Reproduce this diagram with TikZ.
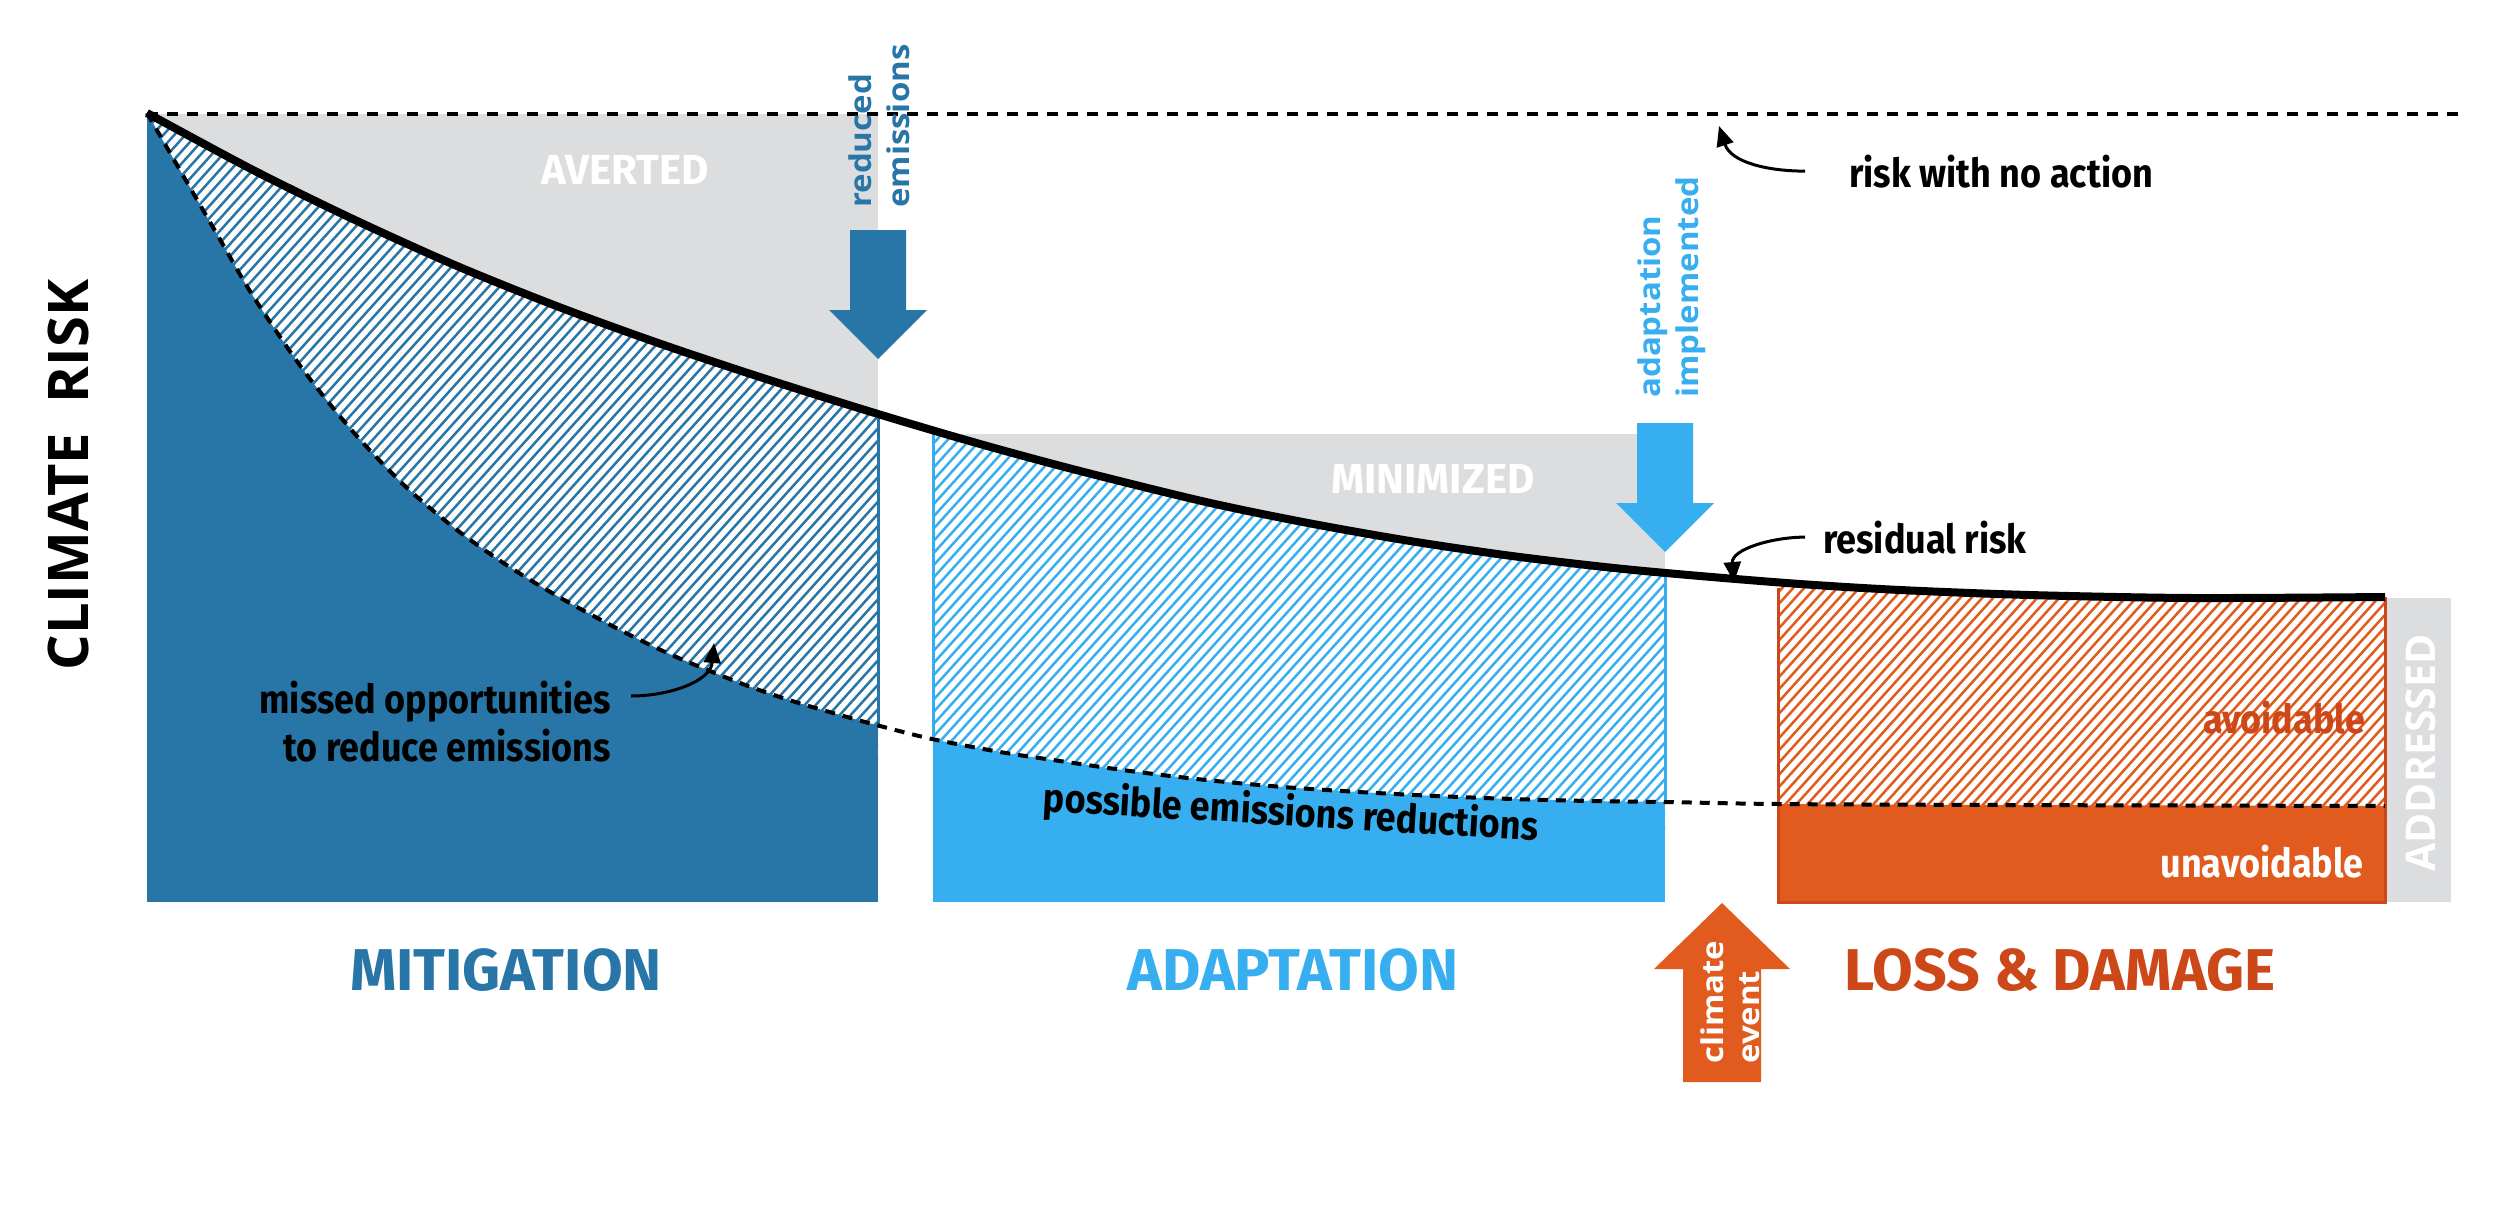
\documentclass[tikz,border=0pt]{standalone}
\usepackage{fontspec}
\newfontfamily\labf{Fira Sans}[FakeStretch=0.9]
\newfontfamily\capf{Fira Sans}
\newfontfamily\osf{Open Sans}
\newfontfamily\osw{Open Sans}[FakeStretch=1.1]
\usetikzlibrary{arrows.meta}
\definecolor{dblue}{RGB}{40,118,167}
\definecolor{lblue}{RGB}{54,174,239}
\definecolor{orng}{RGB}{225,90,30}
\definecolor{dorng}{RGB}{205,72,25}
\definecolor{gry}{RGB}{220,221,223}
\newcommand{\hatchlines}[3]{\foreach \k in {0,...,#3}{\draw[#1,line width=2.5pt] ({#2+11*\k},1000) -- ++(1000,-1110);}}
\begin{document}
\begin{tikzpicture}[x=1pt,y=-1pt,
  lbl/.style={font=\labf\bfseries\fontsize{40}{48}\selectfont, inner sep=0pt},
  ttl/.style={font=\capf\bfseries\fontsize{59}{62}\selectfont, inner sep=0pt},
  area/.style={font=\capf\bfseries\fontsize{42}{44}\selectfont, text=white, inner sep=0pt},
  vlbl/.style={font=\osw\bfseries\fontsize{30}{38}\selectfont, rotate=90, align=left, inner sep=0pt, anchor=south west},
  annot/.style={line width=3pt, -{Triangle[length=20pt,width=17pt]}}]
\useasboundingbox (0,0) rectangle (2500,1220);
\fill[white] (0,0) rectangle (2500,1220);

% grey areas
\fill[gry] (147,114) rectangle (878,430);
\fill[gry] (933,434) rectangle (1665,600);
\fill[gry] (2387,598) rectangle (2451,902);

% hatched regions under the residual risk curve
\begin{scope}
  \clip plot[smooth] coordinates {(147,113) (253,170) (355,220) (457,266) (559,307) (661,344) (763,378) (878,414) (980,444) (1080,471) (1206,502) (1308,523) (1410,541) (1512,556) (1614,568) (1700,576) (1800,584) (1900,590) (2029,595) (2192,598) (2385,597)} -- (2385,1000) -- (147,1000) -- cycle;
  \begin{scope}
    \clip (149,90) rectangle (878,860);
    \fill[white] (149,90) rectangle (878,860);
    \hatchlines{dblue}{-660}{120}
  \end{scope}
  \begin{scope}
    \clip (933,90) rectangle (1665,860);
    \fill[white] (933,90) rectangle (1665,860);
    \hatchlines{lblue}{410}{100}
  \end{scope}
  \begin{scope}
    \clip (1778,90) rectangle (2385,860);
    \fill[white] (1778,90) rectangle (2385,860);
    \hatchlines{orng}{1400}{75}
  \end{scope}
\end{scope}

% solid regions under the dashed curve
\begin{scope}
  \clip plot[smooth] coordinates {(147,113) (218,236) (253,296) (304,371) (355,434) (406,487) (457,530) (508,566) (559,597) (620,630) (674,656) (740,683) (789,700) (840,715) (880,726) (932,739) (1000,752) (1053,760) (1130,771) (1206,780) (1283,787) (1359,792) (1436,796) (1512,799) (1590,801) (1665,802) (1778,804) (2000,805) (2385,806)} -- (2385,1000) -- (147,1000) -- cycle;
  \fill[dblue] (147,90) rectangle (878,902);
  \fill[lblue] (933,90) rectangle (1665,902);
  \fill[orng] (1778,90) rectangle (2385,902);
\end{scope}

% box borders
\draw[dblue, line width=3pt] (878,414) -- (878,728);
\draw[lblue, line width=3pt] (933,430) -- (933,740);
\draw[lblue, line width=3pt] (1665,572) -- (1665,803);
\draw[dorng, line width=3pt] (1778,588) -- (1778,902) -- (2385,902) -- (2385,597);

% dashed curve (possible emissions reductions)
\draw[line width=4pt, dash pattern=on 10pt off 8pt] plot[smooth] coordinates {(147,113) (218,236) (253,296) (304,371) (355,434) (406,487) (457,530) (508,566) (559,597) (620,630) (674,656) (740,683) (789,700) (840,715) (880,726) (932,739) (1000,752) (1053,760) (1130,771) (1206,780) (1283,787) (1359,792) (1436,796) (1512,799) (1590,801) (1665,802) (1778,804) (2000,805) (2385,806)};

% residual risk curve
\draw[line width=8pt] plot[smooth] coordinates {(147,113) (253,170) (355,220) (457,266) (559,307) (661,344) (763,378) (878,414) (980,444) (1080,471) (1206,502) (1308,523) (1410,541) (1512,556) (1614,568) (1700,576) (1800,584) (1900,590) (2029,595) (2192,598) (2385,597)};

% risk with no action line
\draw[line width=3.5pt, dash pattern=on 11pt off 9pt] (147,114) -- (2463,114);

% block arrows
\fill[dblue] (850,230) -- (906,230) -- (906,310) -- (927,310) -- (878,359) -- (829,310) -- (850,310) -- cycle;
\fill[lblue] (1637,423) -- (1693,423) -- (1693,503) -- (1714,503) -- (1665,552) -- (1616,503) -- (1637,503) -- cycle;
\fill[orng] (1683,1082) -- (1761,1082) -- (1761,969) -- (1790,969) -- (1722,903) -- (1654,969) -- (1683,969) -- cycle;

% arrow labels
\node[vlbl, text=dblue] (redem) at (910,208) {reduced\\emissions};
\node[vlbl, text=lblue] (adimp) at (1706,398) {adaptation\\implemented};
\node[vlbl, text=white, font=\osw\bfseries\fontsize{30}{36}\selectfont] (clev) at (1760,1064) {climate\\event};

% area labels
\node[area] (avert) at (625,170) {AVERTED};
\node[area] (minim) at (1433,479) {MINIMIZED};
\node[font=\osf\bfseries\fontsize{41}{41}\selectfont, text=white, rotate=90, inner sep=0pt] (addr) at (2421,753) {ADDRESSED};
\node[lbl, text=dorng] (avoid) at (2284,718) {avoidable};
\node[lbl, text=white] (unavoid) at (2262,862) {unavoidable};
\node[lbl, rotate=-3.4] (posred) at (1291,814) {possible emissions reductions};

% titles
\node[ttl, text=dblue] (mitig) at (506,970) {MITIGATION};
\node[ttl, text=lblue] (adapt) at (1293,970) {ADAPTATION};
\node[ttl, text=dorng] (lossd) at (2060,970) {LOSS \& DAMAGE};
\node[font=\osf\bfseries\fontsize{56}{56}\selectfont, rotate=90, inner sep=0pt] (yaxis) at (68,475) {CLIMATE\hspace{30pt}RISK};

% annotations
\node[lbl, anchor=base west] (noact) at (1849,187) {risk with no action};
\node[lbl, anchor=base west] (resid) at (1823,553) {residual risk};
\node[lbl, align=right, anchor=east] (missed) at (611,722) {missed opportunities\\to reduce emissions};
\coordinate (noacttip) at (1719,126);
\coordinate (residtip) at (1734,582);
\coordinate (missedtip) at (714,643);
\draw[annot] ([xshift=-44pt]noact.west) to[out=180,in=-72] (noacttip);
\draw[annot] ([xshift=-18pt]resid.west) to[out=180,in=95] (residtip);
\draw[annot] ([xshift=20pt]missed.east) ++(0,-26) to[out=0,in=-95] (missedtip);
\end{tikzpicture}
\end{document}
